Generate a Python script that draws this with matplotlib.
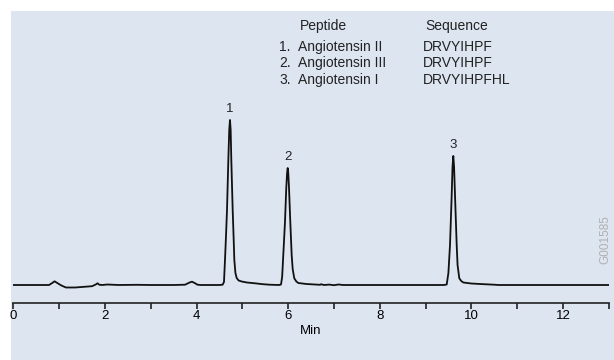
import matplotlib
matplotlib.use("Agg")
import matplotlib.pyplot as plt
from matplotlib.patches import Rectangle
from matplotlib.ticker import MultipleLocator, FuncFormatter

plt.rcParams['font.family'] = ['Liberation Sans', 'DejaVu Sans']

# Cromatograma (tempo em min, sinal em unidades arbitrarias)
tempo = [0.0, 0.78, 0.85, 0.90, 0.96, 1.05, 1.15, 1.35, 1.55, 1.72, 1.80, 1.84, 1.88, 1.95,
         2.05, 2.15, 2.30, 2.70, 3.00, 3.50, 3.75, 3.85, 3.90, 3.96, 4.02, 4.10, 4.50, 4.57,
         4.600, 4.622, 4.645, 4.666, 4.695, 4.715, 4.731, 4.746, 4.760, 4.790, 4.810, 4.826,
         4.850, 4.877, 4.92, 4.986, 5.10, 5.277, 5.45, 5.60, 5.80,
         5.845, 5.870, 5.895, 5.932, 5.960, 5.978, 5.991, 6.004, 6.020, 6.048, 6.078, 6.100,
         6.135, 6.18, 6.223, 6.40, 6.587, 6.70, 6.72, 6.78, 6.90, 7.00, 7.10, 7.20, 7.50,
         9.40, 9.463, 9.500, 9.535, 9.572, 9.590, 9.607, 9.624, 9.644, 9.681, 9.700, 9.738,
         9.78, 9.825, 10.0, 10.19, 10.5, 10.6, 13.0]
sinal = [0, 0, 2, 3.7, 2, -0.5, -2.5, -2.5, -1.8, -1.2, 0.5, 1.7, 0.2, 0.0,
         0.5, 0.3, 0, 0.2, 0, 0, 0.3, 2.5, 3.3, 2, 0.3, 0, 0, 0.3,
         3, 25, 50, 75, 125, 155, 165, 155, 125, 75, 48, 25,
         12, 7, 4.5, 3.5, 2.5, 1.7, 0.8, 0.3, 0,
         0.5, 8, 30, 63, 97, 112, 117, 112, 97, 63, 30, 16,
         6.7, 3.5, 2, 1, 0.5, 0.2, 0.8, 0, 0.4, -0.2, 0.5, 0, 0,
         0, 0.5, 12, 40, 90, 118, 129, 118, 90, 40, 20, 6.7,
         4, 2.5, 1.5, 1, 0.3, 0, 0]

# Picos identificados
picos_t = [4.731, 5.991, 9.607]
picos_h = [165, 117, 129]
picos_rotulo = ['1', '2', '3']

# Tabela de peptideos
numeros = ['1.', '2.', '3.']
peptideos = ['Angiotensin II', 'Angiotensin III', 'Angiotensin I']
sequencias = ['DRVYIHPF', 'DRVYIHPF', 'DRVYIHPFHL']

W, H = 614, 360
fig = plt.figure(figsize=(W / 100, H / 100), dpi=100)
fig.patch.set_facecolor('white')
fig.patches.append(Rectangle((11 / W, 0), 1 - 11 / W, 1 - 11 / H, transform=fig.transFigure,
                             facecolor='#dde5f1', edgecolor='none', zorder=-10))

# eixo: x de 13.3 px a 608.7 px, linha do eixo em y=302.7 px
ax = fig.add_axes([13.3 / W, (H - 302.7) / H, (608.7 - 13.3) / W, 202.7 / H])
ax.set_zorder(5)
ax.patch.set_alpha(0)
ax.plot(tempo, sinal, color='#111111', lw=1.3, solid_joinstyle='round')
ax.set_xlim(0, 13)
ax.set_ylim(-17.7, 185)

for t, h, r in zip(picos_t, picos_h, picos_rotulo):
    ax.text(t, h + 5, r, ha='center', va='bottom', fontsize=9.5, color='#222222')

for lado in ['top', 'right', 'left']:
    ax.spines[lado].set_visible(False)
ax.spines['bottom'].set_linewidth(1.2)
ax.spines['bottom'].set_color('#222222')
ax.set_yticks([])
ax.xaxis.set_major_locator(MultipleLocator(2))
ax.xaxis.set_minor_locator(MultipleLocator(1))
ax.xaxis.set_major_formatter(FuncFormatter(lambda v, p: f'{v:g}'))
ax.tick_params(axis='x', which='both', direction='out', length=4, width=1.2,
               color='#222222', labelsize=9.5, pad=1.5)
ax.set_xlabel('Min', fontsize=9.5, labelpad=2)

def px(x, y):
    return x / W, 1 - y / H

fs = 10
fig.text(*px(300, 25.7), 'Peptide', fontsize=fs, va='center', color='#222222')
fig.text(*px(425, 25.7), 'Sequence', fontsize=fs, va='center', color='#222222')
for i in range(3):
    y = 46.7 + i * 16.7
    fig.text(*px(279.3, y), numeros[i], fontsize=fs, va='center', color='#222222')
    fig.text(*px(298.3, y), peptideos[i], fontsize=fs, va='center', color='#222222')
    fig.text(*px(423.3, y), sequencias[i], fontsize=fs, va='center', color='#222222')

fig.text(*px(605, 240), 'G001585', rotation=90, fontsize=8.5, color='#b0b0b0',
         ha='center', va='center')

fig.savefig('out.png', dpi=100)
